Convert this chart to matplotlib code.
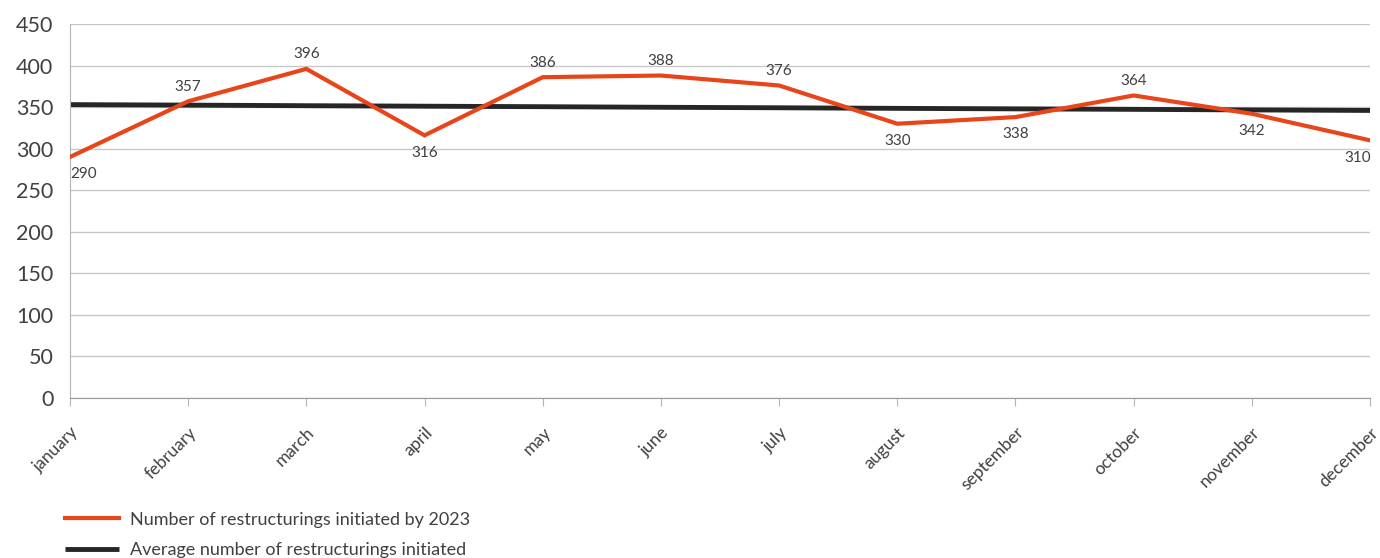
import matplotlib.pyplot as plt

months = ["january", "february", "march", "april", "may", "june",
          "july", "august", "september", "october", "november", "december"]
restructurings = [290, 357, 396, 316, 386, 388, 376, 330, 338, 364, 342, 310]
average = [353, 352.4, 351.7, 351.1, 350.5, 349.8, 349.2, 348.5, 347.9, 347.3, 346.6, 346]
label_below = [True, False, False, True, False, False, False, True, True, False, True, True]

plt.rcParams['font.family'] = ['Lato', 'DejaVu Sans']

orange = "#e8461a"
dark = "#262626"
grey = "#b5b5b5"
text_col = "#404040"

fig = plt.figure(figsize=(13.8, 5.58), dpi=100)
ax = fig.add_axes([0.0507, 0.2867, 0.9421, 0.6703])

x = list(range(len(months)))
ax.plot(x, restructurings, color=orange, lw=3, solid_joinstyle='miter',
        label="Number of restructurings initiated by 2023", zorder=3)
ax.plot(x, average, color=dark, lw=3.5, solid_capstyle='butt',
        label="Average number of restructurings initiated", zorder=2)

last = len(months) - 1
for xi, v, below in zip(x, restructurings, label_below):
    off = -12.5 if below else 10.5
    dx = 10 if xi == 0 else (-9 if xi == last else 0)
    ax.annotate(str(v), (xi, v), xytext=(dx, off), textcoords="offset points",
                ha="center", va="center", fontsize=11, color=text_col)

ax.set_ylim(0, 450)
ax.set_yticks(range(0, 451, 50))
ax.set_xlim(0, last)
ax.set_xticks(x)
ax.set_xticklabels(months, rotation=45, ha="right", rotation_mode="anchor")
ax.grid(axis="y", color="#c8c8c8", lw=1)
ax.set_axisbelow(True)

for s in ["top", "right"]:
    ax.spines[s].set_visible(False)
ax.spines["left"].set_color(grey)
ax.spines["bottom"].set_color("#999999")
ax.tick_params(axis="y", length=0, pad=12, labelsize=15.5, labelcolor=text_col)
ax.tick_params(axis="x", length=6, color=grey, pad=13, labelsize=12.5, labelcolor=text_col)
for lbl in ax.get_xticklabels():
    lbl.set_x(lbl.get_position()[0])

fig.legend(loc="upper left", bbox_to_anchor=(0.035, 0.112), frameon=False,
           fontsize=13, handlelength=3.0, labelspacing=0.8, handletextpad=0.6,
           labelcolor=text_col)

fig.savefig("out.png", dpi=100)
